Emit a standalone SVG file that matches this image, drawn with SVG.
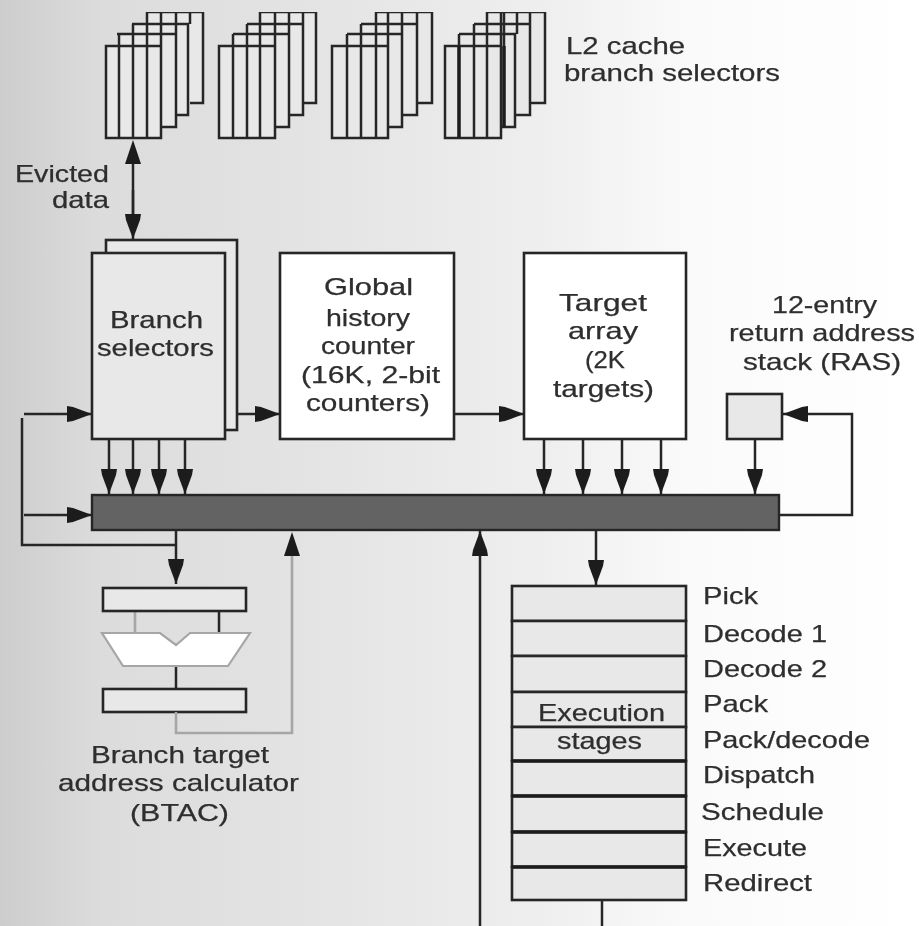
<svg xmlns="http://www.w3.org/2000/svg" width="919" height="926" viewBox="0 0 919 926">
<style>
text{font-family:"Liberation Sans",Arial,sans-serif;font-size:24px;fill:#2e2e2e;stroke:#2e2e2e;stroke-width:.25}
.l{fill:none;stroke:#262626;stroke-width:2.5}
.g{fill:none;stroke:#a6a6a6;stroke-width:2.6}
.b{fill:#e8e8e8;stroke:#262626;stroke-width:2.6}
.w{fill:#fff;stroke:#262626;stroke-width:2.6}
.a{marker-end:url(#h)}
</style>
<defs>
<linearGradient id="bg" x1="0" x2="1" y1="0" y2="0">
<stop offset="0" stop-color="#cdcdcd"/><stop offset=".11" stop-color="#dcdcdc"/><stop offset=".35" stop-color="#e4e4e4"/><stop offset=".6" stop-color="#efefef"/><stop offset=".75" stop-color="#fafafa"/><stop offset="1" stop-color="#fff"/>
</linearGradient>
<marker id="h" markerUnits="userSpaceOnUse" markerWidth="26" markerHeight="18" refX="25" refY="9" orient="auto"><path d="M0 1L6 2L25 9L6 16L0 17Z" fill="#1f1f1f"/></marker>
<filter id="s" x="0" y="0" width="1" height="1"><feGaussianBlur stdDeviation=".6"/></filter>
</defs>
<rect width="919" height="926" fill="url(#bg)"/>
<g filter="url(#s)">
<g id="l2-cache">
<g id="stack-1"><path d="M146 12H203V103H188V115H176V127H161V138H106V46H117V34H132V24H146Z" fill="#e8e8e8"/><path class="l" d="M146 12H203V103H190M132 24H188V115H176M117 34H176V127H161M106 46H161V138H106ZM119 34V138M133 24V138M147 12V138M161 12V46M176 12V34M190 12V24"/></g>
<g id="stack-2"><path d="M259 12H316V103H303V115H289V127H275V138H219V46H233V34H247V24H259Z" fill="#e8e8e8"/><path class="l" d="M259 12H316V103H303M247 24H303V115H289M233 34H289V127H275M219 46H275V138H219ZM233 34V138M247 24V138M260 12V138M275 12V46M289 12V34M303 12V24"/></g>
<g id="stack-3"><path d="M375 12H432V103H417V115H402V127H388V138H332V46H347V34H361V24H375Z" fill="#e8e8e8"/><path class="l" d="M375 12H432V103H417M361 24H417V115H402M347 34H402V127H388M332 46H388V138H332ZM347 34V138M361 24V138M376 12V138M388 12V46M402 12V34M417 12V24"/></g>
<g id="stack-4"><path d="M486 12H545V103H530V115H515V127H501V138H445V46H459V34H474V24H486Z" fill="#e8e8e8"/><path class="l" d="M486 12H545V103H530M474 24H530V115H515M459 34H515V127H501M445 46H501V138H445ZM459 34V138M474 24V138M487 12V138M501 12V46M504 12V127M517 12V34M530 12V24"/><path d="M459 46V138M504 46V127" fill="none" stroke="#1f1f1f" stroke-width="3.4"/></g>
</g>
<g id="branch-selectors"><rect class="b" x="106" y="240" width="131" height="190"/><rect class="b" x="92" y="253" width="133" height="186"/></g>
<g id="global-history"><rect class="w" x="280" y="253" width="174" height="186"/></g>
<g id="target-array"><rect class="w" x="524" y="253" width="162" height="186"/></g>
<g id="ras"><rect class="b" x="727" y="394" width="55" height="45"/></g>
<g id="bar"><rect x="92" y="495" width="687" height="35" fill="#636363" stroke="#262626" stroke-width="2.4"/></g>
<g id="btac">
<path class="g" d="M135 611V633"/><path class="l" d="M219 611V633M176 666V689"/>
<rect class="b" x="103" y="588" width="143" height="23"/>
<path d="M102 633H160L176 645L190 633H250L228 666H123Z" fill="#fff" stroke="#a6a6a6" stroke-width="2.2"/>
<rect class="b" x="103" y="689" width="143" height="23"/>
</g>
<g id="stages">
<rect class="b" x="512" y="586" width="174" height="35"/>
<rect class="b" x="512" y="621" width="174" height="35"/>
<rect class="b" x="512" y="656" width="174" height="36"/>
<rect class="b" x="512" y="692" width="174" height="35"/>
<rect class="b" x="512" y="727" width="174" height="34"/>
<rect class="b" x="512" y="761" width="174" height="35"/>
<rect class="b" x="512" y="796" width="174" height="36"/>
<rect class="b" x="512" y="832" width="174" height="35"/>
<rect class="b" x="512" y="867" width="174" height="33"/>
<path d="M512 761H686M512 796H686M512 832H686M512 867H686" stroke="#1f1f1f" stroke-width="3.4" fill="none"/>
</g>
<g id="connectors">
<path class="l" d="M133 164V214"/>
<path class="l a" d="M133 190V239"/>
<path class="l a" d="M24 414H92"/>
<path class="l a" d="M24 515H92"/>
<path class="l" d="M22 418V545H176"/>
<path class="l a" d="M176 530V584"/>
<path class="l a" d="M109 439V494"/><path class="l a" d="M133 439V494"/><path class="l a" d="M159 439V494"/><path class="l a" d="M185 439V494"/>
<path class="l a" d="M238 414H280"/>
<path class="l a" d="M454 414H524"/>
<path class="l a" d="M544 439V494"/><path class="l a" d="M583 439V494"/><path class="l a" d="M622 439V494"/><path class="l a" d="M661 439V494"/>
<path class="l a" d="M755 439V494"/>
<path class="l a" d="M779 515H852V414H783"/>
<path class="l a" d="M596 530V585"/>
<path class="l a" d="M480 926V531"/>
<path class="l" d="M602 900V926"/>
<path class="g" d="M176 712V733H292V550"/>
</g>
<g id="labels">
<text x="566" y="54" textLength="119" lengthAdjust="spacingAndGlyphs">L2 cache</text>
<text x="564" y="81" textLength="216" lengthAdjust="spacingAndGlyphs">branch selectors</text>
<text x="15" y="182" textLength="94" lengthAdjust="spacingAndGlyphs">Evicted</text>
<text x="52" y="208" textLength="57" lengthAdjust="spacingAndGlyphs">data</text>
<text x="110" y="328" textLength="93" lengthAdjust="spacingAndGlyphs">Branch</text>
<text x="97" y="356" textLength="117" lengthAdjust="spacingAndGlyphs">selectors</text>
<text x="324" y="295" textLength="89" lengthAdjust="spacingAndGlyphs">Global</text>
<text x="326" y="326" textLength="84" lengthAdjust="spacingAndGlyphs">history</text>
<text x="321" y="354" textLength="94" lengthAdjust="spacingAndGlyphs">counter</text>
<text x="301" y="383" textLength="139" lengthAdjust="spacingAndGlyphs">(16K, 2-bit</text>
<text x="306" y="411" textLength="124" lengthAdjust="spacingAndGlyphs">counters)</text>
<text x="559" y="311" textLength="88" lengthAdjust="spacingAndGlyphs">Target</text>
<text x="568" y="339" textLength="70" lengthAdjust="spacingAndGlyphs">array</text>
<text x="585" y="368" textLength="40" lengthAdjust="spacingAndGlyphs">(2K</text>
<text x="553" y="397" textLength="101" lengthAdjust="spacingAndGlyphs">targets)</text>
<text x="772" y="313" textLength="105" lengthAdjust="spacingAndGlyphs">12-entry</text>
<text x="729" y="341" textLength="186" lengthAdjust="spacingAndGlyphs">return address</text>
<text x="743" y="370" textLength="158" lengthAdjust="spacingAndGlyphs">stack (RAS)</text>
<text x="91" y="763" textLength="178" lengthAdjust="spacingAndGlyphs">Branch target</text>
<text x="58" y="791" textLength="241" lengthAdjust="spacingAndGlyphs">address calculator</text>
<text x="130" y="821" textLength="99" lengthAdjust="spacingAndGlyphs">(BTAC)</text>
<text x="538" y="721" textLength="127" lengthAdjust="spacingAndGlyphs">Execution</text>
<text x="557" y="749" textLength="85" lengthAdjust="spacingAndGlyphs">stages</text>
<text x="703" y="604" textLength="55" lengthAdjust="spacingAndGlyphs">Pick</text>
<text x="703" y="642" textLength="124" lengthAdjust="spacingAndGlyphs">Decode 1</text>
<text x="703" y="677" textLength="124" lengthAdjust="spacingAndGlyphs">Decode 2</text>
<text x="703" y="712" textLength="65" lengthAdjust="spacingAndGlyphs">Pack</text>
<text x="703" y="748" textLength="167" lengthAdjust="spacingAndGlyphs">Pack/decode</text>
<text x="703" y="783" textLength="112" lengthAdjust="spacingAndGlyphs">Dispatch</text>
<text x="701" y="820" textLength="123" lengthAdjust="spacingAndGlyphs">Schedule</text>
<text x="703" y="856" textLength="104" lengthAdjust="spacingAndGlyphs">Execute</text>
<text x="703" y="891" textLength="109" lengthAdjust="spacingAndGlyphs">Redirect</text>
</g>
<g id="heads" fill="#1f1f1f"><path d="M284 556L286 550L292 532L298 550L300 556Z"/><path d="M125 164L127 158L133 140L139 158L141 164Z"/></g>
</g>
</svg>
